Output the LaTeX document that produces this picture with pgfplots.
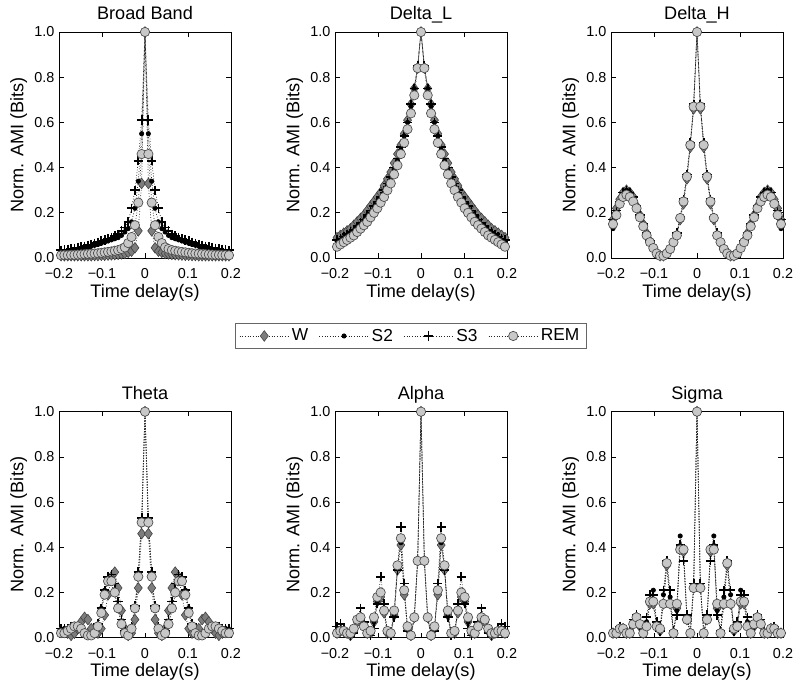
\documentclass[border=0pt]{standalone}
\usepackage{fontspec}
\setmainfont{Liberation Sans}
\usepackage{pgfplots}
\usepackage{pgfplotstable}
\pgfplotsset{compat=1.18}

\definecolor{wfill}{RGB}{125,125,125}
\definecolor{wedge}{RGB}{60,60,60}
\definecolor{remfill}{RGB}{200,200,200}
\definecolor{remedge}{RGB}{75,75,75}

% columns: t W S2 S3 REM
\pgfplotstableread{
t W S2 S3 REM
-0.1953 0.010 0.028 0.034 0.012
-0.1875 0.010 0.030 0.036 0.013
-0.1797 0.010 0.032 0.038 0.013
-0.1719 0.010 0.034 0.040 0.014
-0.1641 0.010 0.036 0.043 0.014
-0.1563 0.010 0.039 0.046 0.015
-0.1484 0.010 0.042 0.049 0.016
-0.1406 0.010 0.045 0.052 0.017
-0.1328 0.010 0.048 0.056 0.018
-0.1250 0.010 0.052 0.060 0.019
-0.1172 0.011 0.056 0.065 0.020
-0.1094 0.011 0.060 0.070 0.021
-0.1016 0.012 0.065 0.075 0.023
-0.0938 0.012 0.070 0.080 0.025
-0.0859 0.013 0.075 0.085 0.027
-0.0781 0.014 0.080 0.090 0.029
-0.0703 0.015 0.085 0.097 0.032
-0.0625 0.016 0.090 0.105 0.035
-0.0547 0.018 0.100 0.120 0.040
-0.0469 0.020 0.115 0.135 0.047
-0.0391 0.025 0.130 0.160 0.066
-0.0313 0.030 0.160 0.220 0.093
-0.0234 0.045 0.220 0.300 0.145
-0.0156 0.120 0.340 0.430 0.245
-0.0078 0.330 0.550 0.610 0.460
0 1 1 1 1
0.0078 0.330 0.550 0.610 0.460
0.0156 0.120 0.340 0.430 0.245
0.0234 0.045 0.220 0.300 0.145
0.0313 0.030 0.160 0.220 0.093
0.0391 0.025 0.130 0.160 0.066
0.0469 0.020 0.115 0.135 0.047
0.0547 0.018 0.100 0.120 0.040
0.0625 0.016 0.090 0.105 0.035
0.0703 0.015 0.085 0.097 0.032
0.0781 0.014 0.080 0.090 0.029
0.0859 0.013 0.075 0.085 0.027
0.0938 0.012 0.070 0.080 0.025
0.1016 0.012 0.065 0.075 0.023
0.1094 0.011 0.060 0.070 0.021
0.1172 0.011 0.056 0.065 0.020
0.1250 0.010 0.052 0.060 0.019
0.1328 0.010 0.048 0.056 0.018
0.1406 0.010 0.045 0.052 0.017
0.1484 0.010 0.042 0.049 0.016
0.1563 0.010 0.039 0.046 0.015
0.1641 0.010 0.036 0.043 0.014
0.1719 0.010 0.034 0.040 0.014
0.1797 0.010 0.032 0.038 0.013
0.1875 0.010 0.030 0.036 0.013
0.1953 0.010 0.028 0.034 0.012
}\dataBB

\pgfplotstableread{
t W S2 S3 REM
-0.1953 0.090 0.075 0.080 0.050
-0.1875 0.100 0.080 0.085 0.060
-0.1797 0.110 0.090 0.095 0.070
-0.1719 0.120 0.100 0.105 0.080
-0.1641 0.130 0.110 0.115 0.090
-0.1563 0.145 0.120 0.125 0.100
-0.1484 0.160 0.135 0.140 0.115
-0.1406 0.175 0.150 0.155 0.130
-0.1328 0.190 0.165 0.170 0.145
-0.1250 0.210 0.180 0.190 0.160
-0.1172 0.230 0.200 0.210 0.180
-0.1094 0.250 0.220 0.230 0.200
-0.1016 0.270 0.240 0.250 0.220
-0.0938 0.290 0.265 0.270 0.245
-0.0859 0.320 0.290 0.300 0.270
-0.0781 0.350 0.320 0.330 0.300
-0.0703 0.380 0.355 0.360 0.330
-0.0625 0.420 0.390 0.400 0.370
-0.0547 0.460 0.430 0.440 0.410
-0.0469 0.500 0.480 0.490 0.460
-0.0391 0.550 0.540 0.540 0.510
-0.0313 0.610 0.600 0.600 0.570
-0.0234 0.680 0.670 0.680 0.640
-0.0156 0.750 0.750 0.750 0.720
-0.0078 0.840 0.850 0.850 0.840
0 1 1 1 1
0.0078 0.840 0.850 0.850 0.840
0.0156 0.750 0.750 0.750 0.720
0.0234 0.680 0.670 0.680 0.640
0.0313 0.610 0.600 0.600 0.570
0.0391 0.550 0.540 0.540 0.510
0.0469 0.500 0.480 0.490 0.460
0.0547 0.460 0.430 0.440 0.410
0.0625 0.420 0.390 0.400 0.370
0.0703 0.380 0.355 0.360 0.330
0.0781 0.350 0.320 0.330 0.300
0.0859 0.320 0.290 0.300 0.270
0.0938 0.290 0.265 0.270 0.245
0.1016 0.270 0.240 0.250 0.220
0.1094 0.250 0.220 0.230 0.200
0.1172 0.230 0.200 0.210 0.180
0.1250 0.210 0.180 0.190 0.160
0.1328 0.190 0.165 0.170 0.145
0.1406 0.175 0.150 0.155 0.130
0.1484 0.160 0.135 0.140 0.115
0.1563 0.145 0.120 0.125 0.100
0.1641 0.130 0.110 0.115 0.090
0.1719 0.120 0.100 0.105 0.080
0.1797 0.110 0.090 0.095 0.070
0.1875 0.100 0.080 0.085 0.060
0.1953 0.090 0.075 0.080 0.050
}\dataDL

\pgfplotstableread{
t W S2 S3 REM
-0.1953 0.170 0.130 0.170 0.150
-0.1875 0.220 0.190 0.210 0.190
-0.1797 0.260 0.240 0.250 0.240
-0.1719 0.290 0.280 0.290 0.270
-0.1641 0.300 0.300 0.300 0.280
-0.1563 0.290 0.290 0.290 0.270
-0.1484 0.270 0.260 0.270 0.250
-0.1406 0.230 0.230 0.230 0.220
-0.1328 0.190 0.190 0.190 0.180
-0.1250 0.150 0.150 0.150 0.140
-0.1172 0.110 0.110 0.110 0.100
-0.1094 0.075 0.075 0.075 0.070
-0.1016 0.045 0.045 0.045 0.044
-0.0938 0.020 0.020 0.020 0.020
-0.0859 0.010 0.010 0.010 0.010
-0.0781 0.010 0.010 0.010 0.010
-0.0703 0.020 0.020 0.020 0.020
-0.0625 0.040 0.040 0.040 0.040
-0.0547 0.065 0.070 0.070 0.070
-0.0469 0.100 0.110 0.110 0.100
-0.0391 0.170 0.180 0.180 0.177
-0.0313 0.240 0.260 0.260 0.250
-0.0234 0.350 0.370 0.370 0.360
-0.0156 0.490 0.510 0.510 0.500
-0.0078 0.660 0.680 0.680 0.670
0 1 1 1 1
0.0078 0.660 0.680 0.680 0.670
0.0156 0.490 0.510 0.510 0.500
0.0234 0.350 0.370 0.370 0.360
0.0313 0.240 0.260 0.260 0.250
0.0391 0.170 0.180 0.180 0.177
0.0469 0.100 0.110 0.110 0.100
0.0547 0.065 0.070 0.070 0.070
0.0625 0.040 0.040 0.040 0.040
0.0703 0.020 0.020 0.020 0.020
0.0781 0.010 0.010 0.010 0.010
0.0859 0.010 0.010 0.010 0.010
0.0938 0.020 0.020 0.020 0.020
0.1016 0.045 0.045 0.045 0.044
0.1094 0.075 0.075 0.075 0.070
0.1172 0.110 0.110 0.110 0.100
0.1250 0.150 0.150 0.150 0.140
0.1328 0.190 0.190 0.190 0.180
0.1406 0.230 0.230 0.230 0.220
0.1484 0.270 0.260 0.270 0.250
0.1563 0.290 0.290 0.290 0.270
0.1641 0.300 0.300 0.300 0.280
0.1719 0.290 0.280 0.290 0.270
0.1797 0.260 0.240 0.250 0.240
0.1875 0.220 0.190 0.210 0.190
0.1953 0.170 0.130 0.170 0.150
}\dataDH

\pgfplotstableread{
t W S2 S3 REM
-0.1953 0.030 0.030 0.040 0.020
-0.1875 0.030 0.040 0.040 0.020
-0.1797 0.020 0.040 0.040 0.030
-0.1719 0.010 0.040 0.050 0.040
-0.1641 0.020 0.050 0.050 0.050
-0.1563 0.040 0.040 0.050 0.050
-0.1484 0.070 0.030 0.040 0.040
-0.1406 0.090 0.020 0.020 0.020
-0.1328 0.080 0.010 0.010 0.010
-0.1250 0.040 0.010 0.010 0.010
-0.1172 0.020 0.020 0.020 0.020
-0.1094 0.020 0.060 0.060 0.050
-0.1016 0.040 0.130 0.130 0.110
-0.0938 0.100 0.210 0.210 0.190
-0.0859 0.190 0.260 0.270 0.250
-0.0781 0.270 0.240 0.280 0.250
-0.0703 0.290 0.190 0.240 0.200
-0.0625 0.220 0.120 0.160 0.130
-0.0547 0.120 0.060 0.080 0.060
-0.0469 0.040 0.020 0.030 0.020
-0.0391 0.010 0.010 0.020 0.010
-0.0313 0.020 0.040 0.050 0.040
-0.0234 0.080 0.120 0.140 0.130
-0.0156 0.220 0.280 0.290 0.270
-0.0078 0.460 0.520 0.530 0.510
0 1 1 1 1
0.0078 0.460 0.520 0.530 0.510
0.0156 0.220 0.280 0.290 0.270
0.0234 0.080 0.120 0.140 0.130
0.0313 0.020 0.040 0.050 0.040
0.0391 0.010 0.010 0.020 0.010
0.0469 0.040 0.020 0.030 0.020
0.0547 0.120 0.060 0.080 0.060
0.0625 0.220 0.120 0.160 0.130
0.0703 0.290 0.190 0.240 0.200
0.0781 0.270 0.240 0.280 0.250
0.0859 0.190 0.260 0.270 0.250
0.0938 0.100 0.210 0.210 0.190
0.1016 0.040 0.130 0.130 0.110
0.1094 0.020 0.060 0.060 0.050
0.1172 0.020 0.020 0.020 0.020
0.1250 0.040 0.010 0.010 0.010
0.1328 0.080 0.010 0.010 0.010
0.1406 0.090 0.020 0.020 0.020
0.1484 0.070 0.030 0.040 0.040
0.1563 0.040 0.040 0.050 0.050
0.1641 0.020 0.050 0.050 0.050
0.1719 0.010 0.040 0.050 0.040
0.1797 0.020 0.040 0.040 0.030
0.1875 0.030 0.040 0.040 0.020
0.1953 0.030 0.030 0.040 0.020
}\dataTH

\pgfplotstableread{
t W S2 S3 REM
-0.1953 0.020 0.030 0.050 0.020
-0.1875 0.030 0.040 0.060 0.030
-0.1797 0.030 0.030 0.040 0.030
-0.1719 0.020 0.020 0.020 0.020
-0.1641 0.010 0.010 0.010 0.020
-0.1563 0.030 0.030 0.020 0.040
-0.1484 0.070 0.080 0.080 0.080
-0.1406 0.080 0.100 0.130 0.090
-0.1328 0.050 0.050 0.070 0.050
-0.1250 0.020 0.020 0.020 0.020
-0.1172 0.020 0.020 0.010 0.030
-0.1094 0.070 0.070 0.040 0.090
-0.1016 0.160 0.160 0.150 0.180
-0.0938 0.180 0.210 0.270 0.200
-0.0859 0.110 0.120 0.150 0.120
-0.0781 0.020 0.020 0.020 0.030
-0.0703 0.020 0.020 0.010 0.020
-0.0625 0.100 0.100 0.090 0.120
-0.0547 0.300 0.310 0.300 0.320
-0.0469 0.410 0.420 0.490 0.440
-0.0391 0.190 0.200 0.240 0.210
-0.0313 0.040 0.040 0.030 0.050
-0.0234 0.010 0.010 0.010 0.010
-0.0156 0.090 0.090 0.090 0.090
-0.0078 0.340 0.340 0.340 0.340
0 1 1 1 1
0.0078 0.340 0.340 0.340 0.340
0.0156 0.090 0.090 0.090 0.090
0.0234 0.010 0.010 0.010 0.010
0.0313 0.040 0.040 0.030 0.050
0.0391 0.190 0.200 0.240 0.210
0.0469 0.410 0.420 0.490 0.440
0.0547 0.300 0.310 0.300 0.320
0.0625 0.100 0.100 0.090 0.120
0.0703 0.020 0.020 0.010 0.020
0.0781 0.020 0.020 0.020 0.030
0.0859 0.110 0.120 0.150 0.120
0.0938 0.180 0.210 0.270 0.200
0.1016 0.160 0.160 0.150 0.180
0.1094 0.070 0.070 0.040 0.090
0.1172 0.020 0.020 0.010 0.030
0.1250 0.020 0.020 0.020 0.020
0.1328 0.050 0.050 0.070 0.050
0.1406 0.080 0.100 0.130 0.090
0.1484 0.070 0.080 0.080 0.080
0.1563 0.030 0.030 0.020 0.040
0.1641 0.010 0.010 0.010 0.020
0.1719 0.020 0.020 0.020 0.020
0.1797 0.030 0.030 0.040 0.030
0.1875 0.030 0.040 0.060 0.030
0.1953 0.020 0.030 0.050 0.020
}\dataAL

\pgfplotstableread{
t W S2 S3 REM
-0.1953 0.020 0.020 0.020 0.020
-0.1875 0.020 0.030 0.030 0.020
-0.1797 0.040 0.050 0.050 0.040
-0.1719 0.040 0.040 0.040 0.040
-0.1641 0.020 0.020 0.020 0.020
-0.1563 0.020 0.020 0.030 0.020
-0.1484 0.060 0.070 0.080 0.060
-0.1406 0.090 0.100 0.100 0.090
-0.1328 0.050 0.050 0.050 0.060
-0.1250 0.020 0.020 0.020 0.020
-0.1172 0.050 0.070 0.090 0.050
-0.1094 0.150 0.170 0.190 0.160
-0.1016 0.150 0.210 0.190 0.160
-0.0938 0.050 0.060 0.070 0.050
-0.0859 0.030 0.030 0.030 0.040
-0.0781 0.150 0.190 0.210 0.150
-0.0703 0.320 0.330 0.340 0.330
-0.0625 0.150 0.180 0.210 0.150
-0.0547 0.020 0.020 0.030 0.020
-0.0469 0.130 0.120 0.100 0.150
-0.0391 0.400 0.450 0.410 0.390
-0.0313 0.380 0.380 0.340 0.390
-0.0234 0.080 0.090 0.100 0.080
-0.0156 0.020 0.020 0.020 0.020
-0.0078 0.220 0.230 0.240 0.220
0 1 1 1 1
0.0078 0.220 0.230 0.240 0.220
0.0156 0.020 0.020 0.020 0.020
0.0234 0.080 0.090 0.100 0.080
0.0313 0.380 0.380 0.340 0.390
0.0391 0.400 0.450 0.410 0.390
0.0469 0.130 0.120 0.100 0.150
0.0547 0.020 0.020 0.030 0.020
0.0625 0.150 0.180 0.210 0.150
0.0703 0.320 0.330 0.340 0.330
0.0781 0.150 0.190 0.210 0.150
0.0859 0.030 0.030 0.030 0.040
0.0938 0.050 0.060 0.070 0.050
0.1016 0.150 0.210 0.190 0.160
0.1094 0.150 0.170 0.190 0.160
0.1172 0.050 0.070 0.090 0.050
0.1250 0.020 0.020 0.020 0.020
0.1328 0.050 0.050 0.050 0.060
0.1406 0.090 0.100 0.100 0.090
0.1484 0.060 0.070 0.080 0.060
0.1563 0.020 0.020 0.030 0.020
0.1641 0.020 0.020 0.020 0.020
0.1719 0.040 0.040 0.040 0.040
0.1797 0.040 0.050 0.050 0.040
0.1875 0.020 0.030 0.030 0.020
0.1953 0.020 0.020 0.020 0.020
}\dataSG

\pgfplotsset{
  dotline/.style={black!85, line width=0.55pt, dash pattern=on 0.6pt off 1.4pt},
  sW/.style={dotline, mark=diamond*, mark size=4pt,
    mark options={solid, fill=wfill, draw=wedge, line width=0.4pt}},
  sS2/.style={dotline, mark=*, mark size=1.6pt,
    mark options={solid, fill=black, draw=black}},
  sS3/.style={dotline, mark=+, mark size=3.5pt,
    mark options={solid, draw=black, line width=1.3pt}},
  sREM/.style={dotline, mark=*, mark size=3.5pt,
    mark options={solid, fill=remfill, draw=remedge, line width=0.5pt}},
  every axis title/.style={at={(axis description cs:0.5,1.054)}, anchor=base,
      font=\fontsize{13.6}{15}\selectfont},
  panel/.style={
    scale only axis, width=129pt, height=169.5pt,
    xmin=-0.2, xmax=0.2, ymin=0, ymax=1,
    clip=false,
    axis line style={black, line width=0.5pt},
    xtick={-0.2,-0.1,0,0.1,0.2},
    xticklabels={−0.2,−0.1,0,0.1,0.2},
    ytick={0,0.2,0.4,0.6,0.8,1},
    yticklabels={0.0,0.2,0.4,0.6,0.8,1.0},
    major tick length=3.5pt,
    tick style={black, line width=0.5pt},
    tick label style={font=\fontsize{10.8}{12}\selectfont},
    xticklabel style={anchor=base, yshift=-15.5pt},
    xlabel={Time delay(s)},
    ylabel={Norm. AMI (Bits)},
    label style={font=\fontsize{13.6}{15}\selectfont},
    xlabel style={at={(axis description cs:0.5,-0.173)}, anchor=base},
    ylabel style={at={(axis description cs:-0.235,0.5)}, anchor=center},
  },
}

\begin{document}
\begin{tikzpicture}
\begin{axis}[panel, at={(44.25pt,321.75pt)}, anchor=south west, title={Broad Band}]
\addplot[sW] table[x=t,y=W]{\dataBB};
\addplot[sS2] table[x=t,y=S2]{\dataBB};
\addplot[sS3] table[x=t,y=S3]{\dataBB};
\addplot[sREM] table[x=t,y=REM]{\dataBB};
\end{axis}

\begin{axis}[panel, at={(251.25pt,321.75pt)}, anchor=south west, title={Delta\_L},
  legend columns=4,
  legend style={at={(axis description cs:0.44,-0.345)}, anchor=center,
    draw=black!60, line width=0.5pt, font=\fontsize{13}{15}\selectfont,
    /tikz/every even column/.append style={column sep=6pt}},
  legend image code/.code={\draw[mark repeat=2,mark phase=2,#1] plot coordinates {(0cm,0cm) (0.65cm,0cm) (1.3cm,0cm)};}]
\addplot[sW] table[x=t,y=W]{\dataDL};
\addplot[sS2] table[x=t,y=S2]{\dataDL};
\addplot[sS3] table[x=t,y=S3]{\dataDL};
\addplot[sREM] table[x=t,y=REM]{\dataDL};
\legend{W,S2,S3,REM}
\end{axis}

\begin{axis}[panel, at={(458.25pt,321.75pt)}, anchor=south west, title={Delta\_H}]
\addplot[sW] table[x=t,y=W]{\dataDH};
\addplot[sS2] table[x=t,y=S2]{\dataDH};
\addplot[sS3] table[x=t,y=S3]{\dataDH};
\addplot[sREM] table[x=t,y=REM]{\dataDH};
\end{axis}

\begin{axis}[panel, at={(44.25pt,37pt)}, anchor=south west, title={Theta}]
\addplot[sW] table[x=t,y=W]{\dataTH};
\addplot[sS2] table[x=t,y=S2]{\dataTH};
\addplot[sS3] table[x=t,y=S3]{\dataTH};
\addplot[sREM] table[x=t,y=REM]{\dataTH};
\end{axis}

\begin{axis}[panel, at={(251.25pt,37pt)}, anchor=south west, title={Alpha}]
\addplot[sW] table[x=t,y=W]{\dataAL};
\addplot[sS2] table[x=t,y=S2]{\dataAL};
\addplot[sS3] table[x=t,y=S3]{\dataAL};
\addplot[sREM] table[x=t,y=REM]{\dataAL};
\end{axis}

\begin{axis}[panel, at={(458.25pt,37pt)}, anchor=south west, title={Sigma}]
\addplot[sW] table[x=t,y=W]{\dataSG};
\addplot[sS2] table[x=t,y=S2]{\dataSG};
\addplot[sS3] table[x=t,y=S3]{\dataSG};
\addplot[sREM] table[x=t,y=REM]{\dataSG};
\end{axis}

\pgfresetboundingbox
\useasboundingbox (0,0) rectangle (600pt,515.25pt);
\end{tikzpicture}
\end{document}
